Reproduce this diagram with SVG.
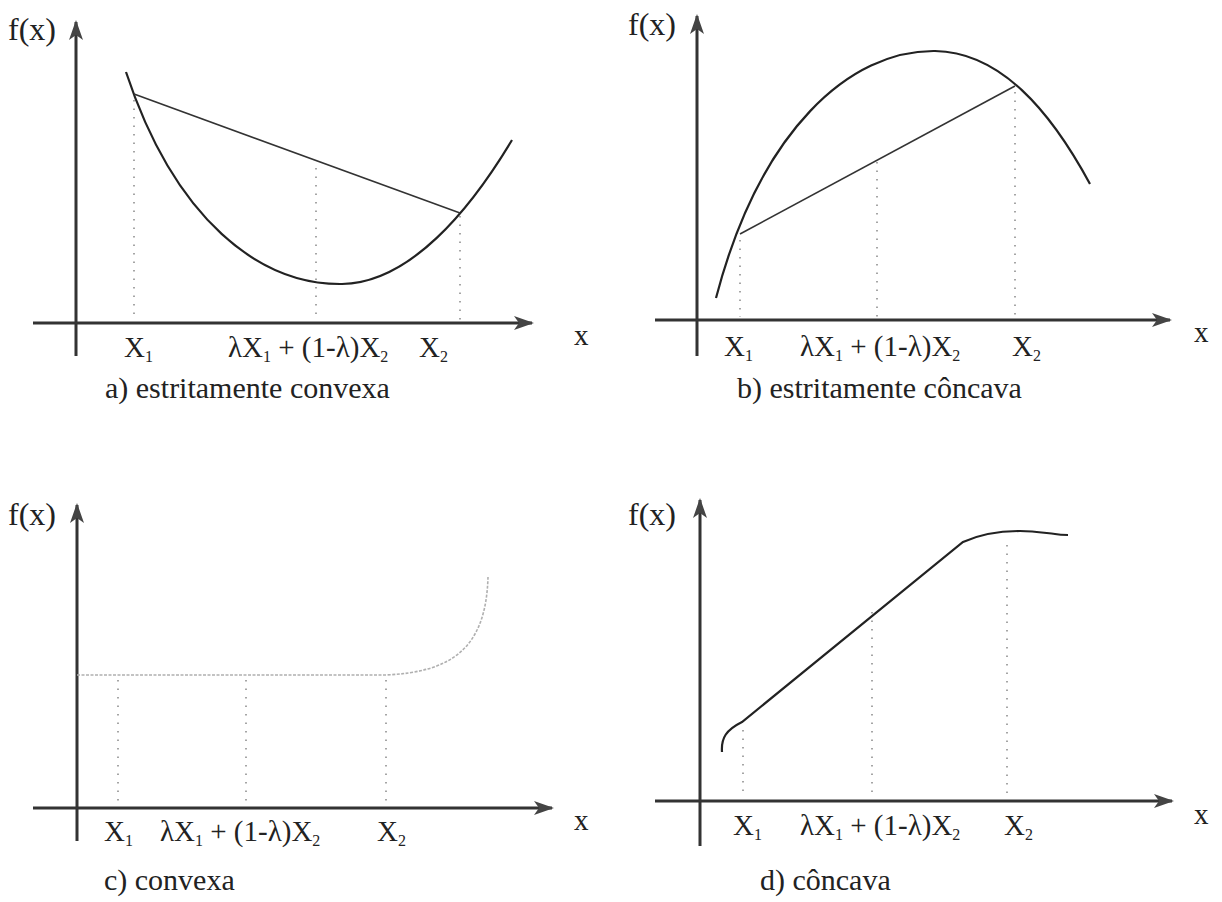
<svg xmlns="http://www.w3.org/2000/svg" width="1222" height="902" viewBox="0 0 1222 902">
<style>
text{font-family:"Liberation Serif","Times New Roman",serif;fill:#222}
.lab{font-size:29px}
.fx{font-size:32px}
.cap{font-size:30px}
.sub{font-size:16px}
.axis{stroke:#333;stroke-width:3;fill:none}
.curve{stroke:#222;stroke-width:2.2;fill:none}
.chord{stroke:#333;stroke-width:1.6;fill:none}
.dot{stroke:#888;stroke-width:1.5;stroke-dasharray:1.5 7;fill:none}
</style>
<defs>
<marker id="ah" viewBox="0 0 20 14" markerWidth="20" markerHeight="14" refX="18" refY="7" orient="auto" markerUnits="userSpaceOnUse">
<path d="M0,0 L20,7 L0,14 L5,7 z" fill="#444"/>
</marker>
</defs>

<g id="panel-a">
<g id="a-axes" class="connectors">
<line class="axis" x1="76" y1="356" x2="76" y2="22" marker-end="url(#ah)"/>
<line class="axis" x1="33" y1="323" x2="532" y2="323" marker-end="url(#ah)"/>
</g>
<text class="fx" x="8" y="40">f(x)</text>
<text class="lab" x="574" y="345">x</text>
<path class="curve" d="M126,72 C175,220 260,285 342,284 C410,283 470,210 512,140"/>
<line class="chord" x1="134" y1="94" x2="460" y2="213"/>
<line class="dot" x1="134" y1="100" x2="134" y2="320"/>
<line class="dot" x1="316" y1="168" x2="316" y2="320"/>
<line class="dot" x1="460" y1="216" x2="460" y2="320"/>
<text class="lab" x="124" y="357">X<tspan class="sub" dy="5">1</tspan></text>
<text class="lab" x="228" y="357">λX<tspan class="sub" dy="5">1</tspan><tspan dy="-5"> + (1-λ)X</tspan><tspan class="sub" dy="5">2</tspan></text>
<text class="lab" x="419" y="357">X<tspan class="sub" dy="5">2</tspan></text>
<text class="cap" x="105" y="398">a) estritamente convexa</text>
</g>

<g id="panel-b">
<g id="b-axes" class="connectors">
<line class="axis" x1="697" y1="356" x2="697" y2="16" marker-end="url(#ah)"/>
<line class="axis" x1="655" y1="320" x2="1170" y2="320" marker-end="url(#ah)"/>
</g>
<text class="fx" x="628" y="35">f(x)</text>
<text class="lab" x="1194" y="342">x</text>
<path class="curve" d="M716,298 C760,130 850,50 935,51 C1000,52 1050,110 1090,184"/>
<line class="chord" x1="740" y1="234" x2="1015" y2="86"/>
<line class="dot" x1="740" y1="240" x2="740" y2="317"/>
<line class="dot" x1="877" y1="162" x2="877" y2="317"/>
<line class="dot" x1="1015" y1="92" x2="1015" y2="317"/>
<text class="lab" x="724" y="356">X<tspan class="sub" dy="5">1</tspan></text>
<text class="lab" x="800" y="356">λX<tspan class="sub" dy="5">1</tspan><tspan dy="-5"> + (1-λ)X</tspan><tspan class="sub" dy="5">2</tspan></text>
<text class="lab" x="1012" y="356">X<tspan class="sub" dy="5">2</tspan></text>
<text class="cap" x="737" y="398">b) estritamente côncava</text>
</g>

<g id="panel-c">
<g id="c-axes" class="connectors">
<line class="axis" x1="77" y1="841" x2="77" y2="505" marker-end="url(#ah)"/>
<line class="axis" x1="33" y1="808" x2="552" y2="808" marker-end="url(#ah)"/>
</g>
<text class="fx" x="8" y="525">f(x)</text>
<text class="lab" x="574" y="830">x</text>
<path d="M77,675 L386,675 C450,672 486,650 488,577" stroke="#b0b0b0" stroke-width="1.6" stroke-dasharray="3 1.5" fill="none"/>
<line class="dot" x1="118" y1="680" x2="118" y2="805"/>
<line class="dot" x1="246" y1="680" x2="246" y2="805"/>
<line class="dot" x1="386" y1="680" x2="386" y2="805"/>
<text class="lab" x="104" y="841">X<tspan class="sub" dy="5">1</tspan></text>
<text class="lab" x="160" y="841">λX<tspan class="sub" dy="5">1</tspan><tspan dy="-5"> + (1-λ)X</tspan><tspan class="sub" dy="5">2</tspan></text>
<text class="lab" x="377" y="841">X<tspan class="sub" dy="5">2</tspan></text>
<text class="cap" x="104" y="890">c) convexa</text>
</g>

<g id="panel-d">
<g id="d-axes" class="connectors">
<line class="axis" x1="700" y1="846" x2="700" y2="500" marker-end="url(#ah)"/>
<line class="axis" x1="655" y1="801" x2="1172" y2="801" marker-end="url(#ah)"/>
</g>
<text class="fx" x="628" y="525">f(x)</text>
<text class="lab" x="1194" y="824">x</text>
<path class="curve" d="M722,752 C721,738 726,730 742,722 L963,542 C985,532 1005,531 1020,531 C1035,531 1045,533 1055,534 C1060,535 1065,535 1068,535"/>
<line class="dot" x1="743" y1="730" x2="743" y2="798"/>
<line class="dot" x1="872" y1="612" x2="872" y2="798"/>
<line class="dot" x1="1007" y1="545" x2="1007" y2="798"/>
<text class="lab" x="733" y="835">X<tspan class="sub" dy="5">1</tspan></text>
<text class="lab" x="800" y="835">λX<tspan class="sub" dy="5">1</tspan><tspan dy="-5"> + (1-λ)X</tspan><tspan class="sub" dy="5">2</tspan></text>
<text class="lab" x="1004" y="835">X<tspan class="sub" dy="5">2</tspan></text>
<text class="cap" x="760" y="890">d) côncava</text>
</g>
</svg>
